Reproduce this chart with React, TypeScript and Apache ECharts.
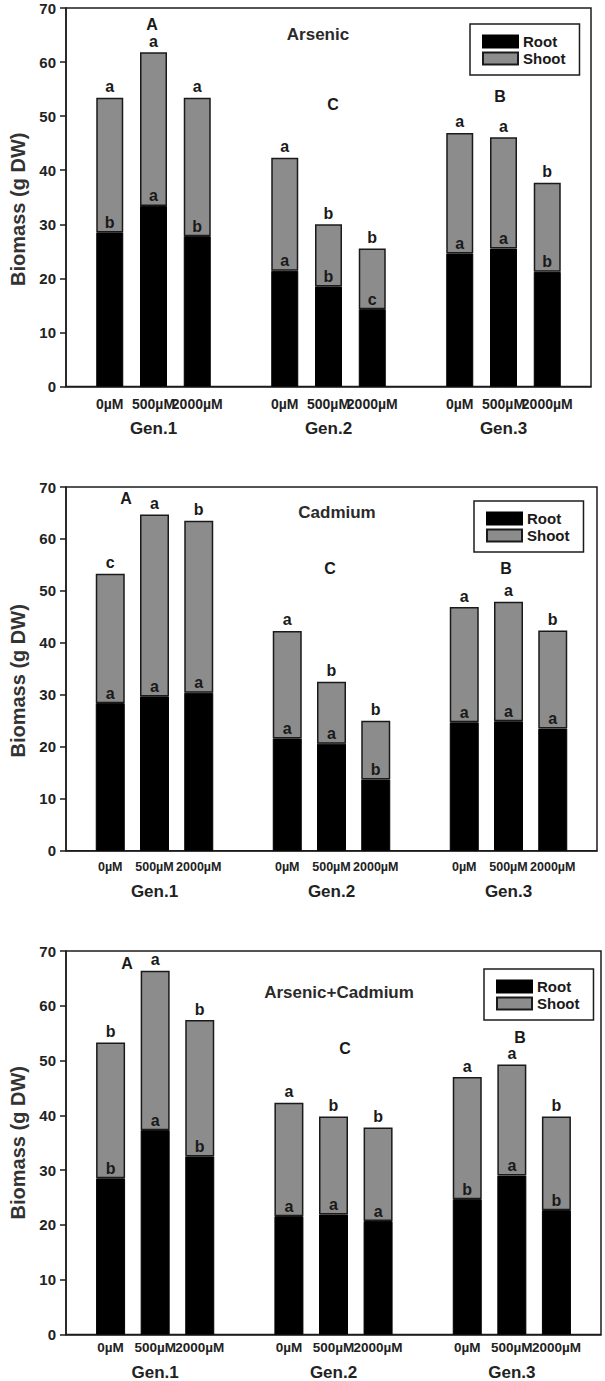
import React, { useEffect, useRef } from 'react';
import * as echarts from 'echarts';

// ---------- data ----------
const treatments = ['0µM', '500µM', '2000µM'];
const generations = ['Gen.1', 'Gen.2', 'Gen.3'];
const groupLetters = ['A', 'C', 'B'];
const panelTitles = ['Arsenic', 'Cadmium', 'Arsenic+Cadmium'];
const seriesNames = ['Root', 'Shoot'];

// order: Gen.1 (0, 500, 2000), Gen.2 (...), Gen.3 (...)
const arsenicRoot = [28.5, 33.4, 27.8, 21.4, 18.5, 14.3, 24.6, 25.5, 21.2];
const arsenicShoot = [24.9, 28.4, 25.6, 20.9, 11.5, 11.2, 22.3, 20.6, 16.5];
const cadmiumRoot = [28.4, 29.7, 30.4, 21.6, 20.6, 13.7, 24.7, 24.9, 23.5];
const cadmiumShoot = [24.9, 35.0, 33.1, 20.7, 11.9, 11.3, 22.2, 23.0, 18.9];
const bothRoot = [28.5, 37.3, 32.5, 21.6, 21.9, 20.7, 24.7, 29.0, 22.7];
const bothShoot = [24.8, 29.1, 24.9, 20.7, 17.9, 17.1, 22.3, 20.3, 17.1];

const arsenicRootLetters = ['b', 'a', 'b', 'a', 'b', 'c', 'a', 'a', 'b'];
const arsenicTopLetters = ['a', 'a', 'a', 'a', 'b', 'b', 'a', 'a', 'b'];
const cadmiumRootLetters = ['a', 'a', 'a', 'a', 'a', 'b', 'a', 'a', 'a'];
const cadmiumTopLetters = ['c', 'a', 'b', 'a', 'b', 'b', 'a', 'a', 'b'];
const bothRootLetters = ['b', 'a', 'b', 'a', 'a', 'a', 'b', 'a', 'b'];
const bothTopLetters = ['b', 'a', 'b', 'a', 'b', 'b', 'a', 'a', 'b'];

const yTicks = { min: 0, max: 70, interval: 10 };

// ---------- layout (pixels) ----------
const FONT = '"Liberation Sans", Arial, sans-serif';
const panels = [
  {
    root: arsenicRoot, shoot: arsenicShoot, rootL: arsenicRootLetters, topL: arsenicTopLetters,
    grid: { left: 62, top: 8, right: 14, height: 378.5 },
    barWidth: 27, catFont: 14, labelMargin: 9, genLH: 34, nameShift: 24,
    legend: { left: 470, top: 24 },
    title: [318, 34], letters: [[152, 24], [333, 104], [500, 96]],
  },
  {
    root: cadmiumRoot, shoot: cadmiumShoot, rootL: cadmiumRootLetters, topL: cadmiumTopLetters,
    grid: { left: 62, top: 487, right: 8, height: 363.7 },
    barWidth: 29, catFont: 12.5, labelMargin: 8, genLH: 34, nameShift: 24,
    legend: { left: 474, top: 501 },
    title: [337, 512], letters: [[126, 498], [330, 568], [506, 568]],
  },
  {
    root: bothRoot, shoot: bothShoot, rootL: bothRootLetters, topL: bothTopLetters,
    grid: { left: 63, top: 951, right: 4, height: 384.5 },
    barWidth: 29, catFont: 13.5, labelMargin: 5, genLH: 34, nameShift: 0,
    legend: { left: 484, top: 969 },
    title: [339, 992], letters: [[127, 963], [345, 1048], [520, 1037]],
  },
];

// 13 category slots: gap, 3 treatments, gap, 3 treatments, gap, 3 treatments, gap
const slotKeys: string[] = [];
const slotBar: number[] = [];
for (let g = 0; g < 3; g++) {
  slotKeys.push('gap' + g);
  slotBar.push(-1);
  for (let t = 0; t < 3; t++) {
    slotKeys.push(generations[g] + '|' + treatments[t]);
    slotBar.push(g * 3 + t);
  }
}
slotKeys.push('gap3');
slotBar.push(-1);

const toSlots = (vals: any[], empty: any) => slotBar.map((b) => (b < 0 ? empty : vals[b]));

export default function App() {
  const ref = useRef<HTMLDivElement>(null);

  useEffect(() => {
    if (!ref.current) return;
    const chart = echarts.init(ref.current, undefined, { renderer: 'svg' });

    const grids: any[] = [];
    const xAxes: any[] = [];
    const yAxes: any[] = [];
    const series: any[] = [];
    const legends: any[] = [];
    const graphics: any[] = [];

    panels.forEach((p, pi) => {
      grids.push({
        ...p.grid,
        show: true,
        borderColor: '#1c1c1c',
        borderWidth: 1.5,
        backgroundColor: 'transparent',
      });
      xAxes.push({
        type: 'category',
        gridIndex: pi,
        data: slotKeys,
        boundaryGap: false,
        axisLine: { show: true, lineStyle: { color: '#1c1c1c', width: 1.5 } },
        axisTick: { show: false },
        splitLine: { show: false },
        axisLabel: {
          interval: 0,
          margin: p.labelMargin,
          hideOverlap: false,
          formatter: (value: string, index: number) => {
            const b = slotBar[index];
            if (b < 0) return '';
            const t = b % 3;
            const g = Math.floor(b / 3);
            if (t === 1) return `{t|${treatments[t]}}\n{g|${generations[g]}}`;
            return `{t|${treatments[t]}}`;
          },
          rich: {
            t: { fontFamily: FONT, fontWeight: 'bold', fontSize: p.catFont, color: '#222', lineHeight: 16 },
            g: { fontFamily: FONT, fontWeight: 'bold', fontSize: 17, color: '#222', lineHeight: p.genLH },
          },
        },
      });
      yAxes.push({
        type: 'value',
        gridIndex: pi,
        min: yTicks.min,
        max: yTicks.max,
        interval: yTicks.interval,
        name: 'Biomass (g DW)',
        nameLocation: 'middle',
        nameGap: 38,
        nameTextStyle: {
          fontFamily: FONT,
          fontWeight: 'bold',
          fontSize: 20,
          color: '#333',
          padding: [0, p.nameShift, 0, 0],
        },
        axisLine: { show: true, lineStyle: { color: '#1c1c1c', width: 1.5 } },
        axisTick: { show: true, length: 6, lineStyle: { color: '#1c1c1c', width: 1.5 } },
        axisLabel: { fontFamily: FONT, fontWeight: 'bold', fontSize: 15, color: '#222', margin: 10 },
        splitLine: { show: false },
      });

      const rootLetters = toSlots(p.rootL, '');
      const topLetters = toSlots(p.topL, '');
      series.push({
        name: seriesNames[0],
        type: 'bar',
        xAxisIndex: pi,
        yAxisIndex: pi,
        stack: 'panel' + pi,
        barWidth: p.barWidth,
        z: 3,
        data: toSlots(p.root, '-'),
        itemStyle: { color: '#000000', borderColor: '#000000', borderWidth: 1 },
        label: {
          show: true,
          position: 'top',
          distance: 2,
          formatter: (params: any) => rootLetters[params.dataIndex] || '',
          fontFamily: FONT,
          fontWeight: 'bold',
          fontSize: 16,
          color: '#1a1a1a',
        },
      });
      series.push({
        name: seriesNames[1],
        type: 'bar',
        xAxisIndex: pi,
        yAxisIndex: pi,
        stack: 'panel' + pi,
        barWidth: p.barWidth,
        z: 2,
        data: toSlots(p.shoot, '-'),
        itemStyle: { color: '#8c8c8c', borderColor: '#1a1a1a', borderWidth: 1.5 },
        label: {
          show: true,
          position: 'top',
          distance: 3,
          formatter: (params: any) => topLetters[params.dataIndex] || '',
          fontFamily: FONT,
          fontWeight: 'bold',
          fontSize: 16,
          color: '#1a1a1a',
        },
      });

      legends.push({
        orient: 'vertical',
        left: p.legend.left,
        top: p.legend.top,
        data: seriesNames,
        icon: 'rect',
        itemWidth: 35,
        itemHeight: 12,
        itemGap: 2,
        padding: [10, 14, 9, 12],
        borderColor: '#1c1c1c',
        borderWidth: 1.5,
        selectedMode: false,
        textStyle: { fontFamily: FONT, fontWeight: 'bold', fontSize: 15, color: '#1a1a1a' },
      });

      graphics.push({
        type: 'text',
        x: p.title[0],
        y: p.title[1],
        style: {
          text: panelTitles[pi],
          fontFamily: FONT,
          fontWeight: 'bold',
          fontSize: 17,
          fill: '#2a2a2a',
          align: 'center',
          verticalAlign: 'middle',
        },
      });
      p.letters.forEach((pos, gi) => {
        graphics.push({
          type: 'text',
          x: pos[0],
          y: pos[1],
          style: {
            text: groupLetters[gi],
            fontFamily: FONT,
            fontWeight: 'bold',
            fontSize: 16,
            fill: '#1a1a1a',
            align: 'center',
            verticalAlign: 'middle',
          },
        });
      });
    });

    chart.setOption({
      animation: false,
      backgroundColor: '#ffffff',
      grid: grids,
      xAxis: xAxes,
      yAxis: yAxes,
      legend: legends,
      series,
      graphic: graphics,
    });

    return () => {
      chart.dispose();
    };
  }, []);

  return (
    <div
      ref={ref}
      style={{ position: 'absolute', left: 0, top: 0, width: 605, height: 1381, background: '#fff' }}
    />
  );
}
